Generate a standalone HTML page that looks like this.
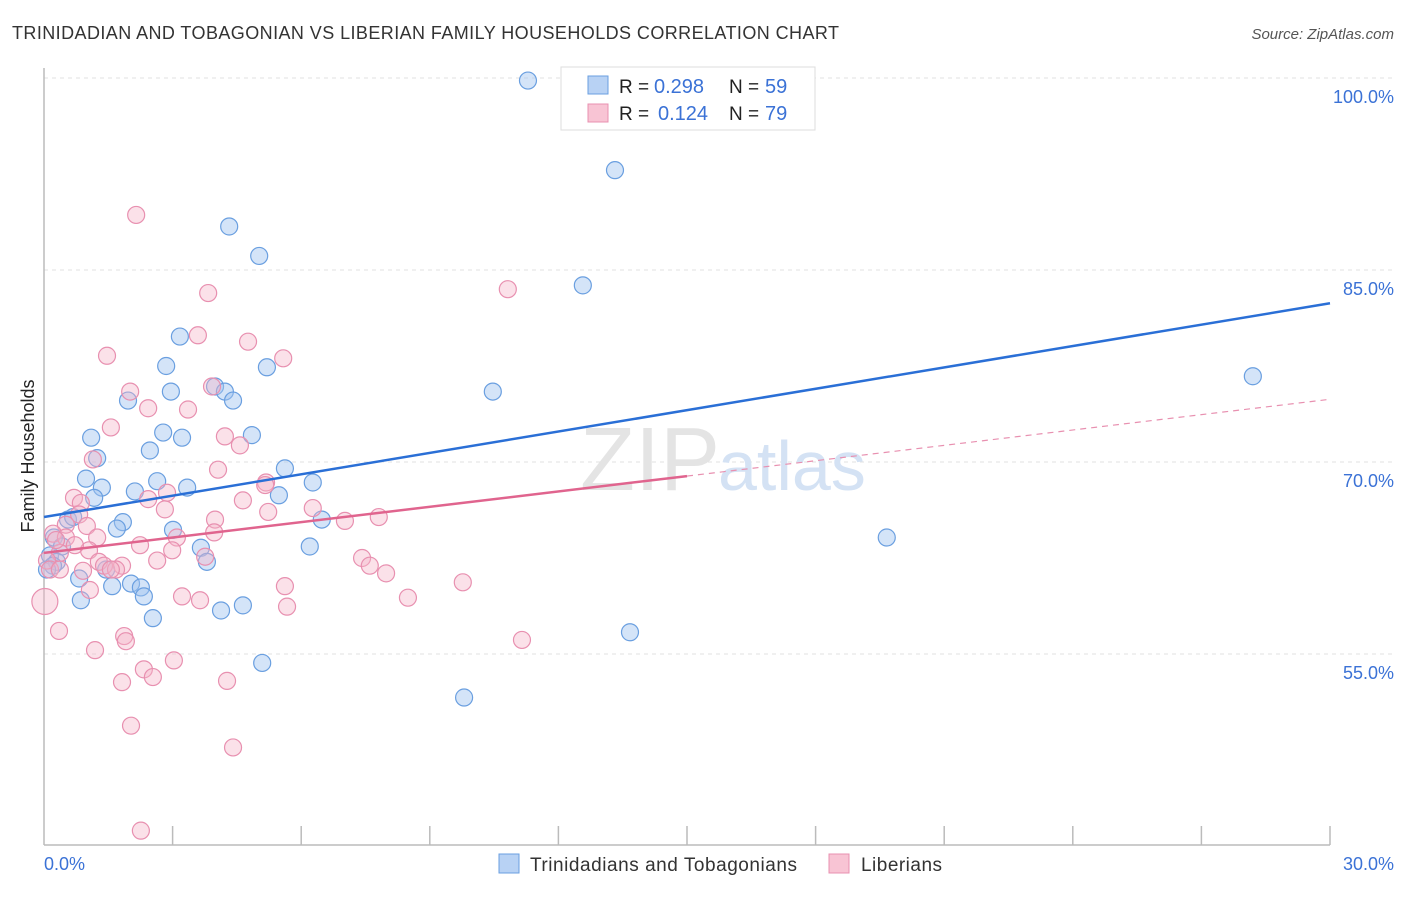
<!DOCTYPE html>
<html><head><meta charset="utf-8"><style>
body{margin:0;background:#fff;font-family:"Liberation Sans",sans-serif;}
svg text{font-family:"Liberation Sans",sans-serif;}
</style></head><body>
<svg width="1406" height="892" viewBox="0 0 1406 892">
<text x="12" y="39" font-size="18" fill="#333" textLength="827" lengthAdjust="spacing">TRINIDADIAN AND TOBAGONIAN VS LIBERIAN FAMILY HOUSEHOLDS CORRELATION CHART</text>
<text x="1394" y="39" font-size="15" fill="#555" font-style="italic" text-anchor="end">Source: ZipAtlas.com</text>
<text x="34" y="456" font-size="18" fill="#222" transform="rotate(-90 34 456)" text-anchor="middle">Family Households</text>
<g id="grid"></g>
<text x="720" y="490" font-size="90" fill="#e4e4e4" font-family="Liberation Serif" text-anchor="end">ZIP</text>
<text x="718" y="490" font-size="70" fill="#d4e2f4">atlas</text>
<line x1="44" y1="68" x2="44" y2="845" stroke="#bbb" stroke-width="1.5"/>
<line x1="44" y1="845" x2="1330" y2="845" stroke="#bbb" stroke-width="1.5"/>
<g id="ticks"></g>
<g id="pts"></g>
<g id="lines"></g>
<text x="44" y="870" font-size="18" fill="#3b72d6">0.0%</text>
<text x="1394" y="870" font-size="18" fill="#3b72d6" text-anchor="end">30.0%</text>
<g>
<rect x="561" y="67" width="254" height="63" fill="#fff" stroke="#ddd"/>
<rect x="588" y="76" width="20" height="18" fill="#b8d2f4" stroke="#6a9fe0"/>
<rect x="588" y="104" width="20" height="18" fill="#f8c4d4" stroke="#e890b0"/>
<text x="619" y="93" font-size="19" fill="#222">R =</text>
<text x="654" y="93" font-size="20" fill="#3b72d6">0.298</text>
<text x="729" y="93" font-size="19" fill="#222">N =</text>
<text x="765" y="93" font-size="20" fill="#3b72d6">59</text>
<text x="619" y="120" font-size="19" fill="#222">R =</text>
<text x="658" y="120" font-size="20" fill="#3b72d6">0.124</text>
<text x="729" y="120" font-size="19" fill="#222">N =</text>
<text x="765" y="120" font-size="20" fill="#3b72d6">79</text>
</g>
<g>
<rect x="499" y="854" width="20" height="19" fill="#b8d2f4" stroke="#6a9fe0"/>
<text x="530" y="871" font-size="19" fill="#333" textLength="267" lengthAdjust="spacing">Trinidadians and Tobagonians</text>
<rect x="829" y="854" width="20" height="19" fill="#f8c4d4" stroke="#e890b0"/>
<text x="861" y="871" font-size="19" fill="#333" textLength="81" lengthAdjust="spacing">Liberians</text>
</g>
</svg>
<script>
const yTicks=[100,85,70,55];
const yTickLabels=["100.0%","85.0%","70.0%","55.0%"];
const xTicks=[3,6,9,12,15,18,21,24,27,30];
const blueX=[11.29,13.32,4.32,5.02,12.57,3.17,2.85,5.20,2.96,3.99,4.22,10.47,1.96,4.41,28.2,1.10,2.78,3.22,4.85,2.47,1.24,5.62,0.98,2.64,6.27,1.35,3.34,2.12,5.48,1.17,0.56,0.68,1.84,1.70,3.01,6.48,19.66,0.23,0.42,3.66,6.20,0.14,0.30,3.80,0.21,0.07,1.45,0.82,1.59,2.03,2.26,2.33,0.86,4.64,4.13,2.54,13.67,5.09,9.80];
const blueY=[99.8,92.8,88.4,86.1,83.8,79.8,77.5,77.4,75.5,75.9,75.5,75.5,74.8,74.8,76.7,71.9,72.3,71.9,72.1,70.9,70.3,69.5,68.7,68.5,68.4,68.0,68.0,67.7,67.4,67.2,65.5,65.7,65.3,64.8,64.7,65.5,64.1,64.1,63.4,63.3,63.4,62.7,62.2,62.2,61.9,61.6,61.6,60.9,60.3,60.5,60.2,59.5,59.2,58.8,58.4,57.8,56.7,54.3,51.6];
const pinkX=[2.15,3.83,10.82,3.59,1.47,4.76,5.58,2.01,3.92,2.43,3.36,1.56,4.22,4.57,1.14,4.06,0.70,2.43,2.87,4.64,5.18,5.16,0.86,2.82,6.27,0.82,3.99,5.23,7.02,7.81,0.51,1.00,3.97,0.21,1.24,0.51,3.10,1.05,0.37,2.99,2.64,1.28,1.82,1.40,1.68,7.42,7.60,7.98,0.91,1.56,3.76,0.07,0.02,9.77,5.62,3.22,8.49,5.67,0.35,1.87,1.91,11.15,1.19,3.03,2.33,2.54,1.82,4.27,2.03,4.41,2.26,0.14,0.37,0.72,2.24,0.28,1.07,3.64];
const pinkY=[89.3,83.2,83.5,79.9,78.3,79.4,78.1,75.5,75.9,74.2,74.1,72.7,72.0,71.3,70.2,69.4,67.2,67.1,67.6,67.0,68.4,68.2,66.8,66.3,66.4,65.9,65.5,66.1,65.4,65.7,65.1,65.0,64.5,64.4,64.1,64.1,64.1,63.1,62.9,63.1,62.3,62.2,61.9,61.9,61.6,62.5,61.9,61.3,61.5,61.6,62.6,62.3,59.1,60.6,60.3,59.5,59.4,58.7,56.8,56.4,56.0,56.1,55.3,54.5,53.8,53.2,52.8,52.9,49.4,47.7,41.2,61.6,61.6,63.5,63.5,63.9,60.0,59.2];
const blueTrend=[65.7,82.4];
const pinkTrend=[62.9,74.9];
const pinkSolidEnd=15;
const X=v=>44+v/30*1286, Y=v=>78+(100-v)*12.8;
const NS="http://www.w3.org/2000/svg";
function mk(t,a,p){const e=document.createElementNS(NS,t);for(const k in a)e.setAttribute(k,a[k]);p.appendChild(e);return e;}
const grid=document.getElementById('grid');
yTicks.forEach((v,i)=>{
 const l=mk('line',{x1:44,x2:1394,y1:Y(v),y2:Y(v),stroke:'#e2e2e2','stroke-dasharray':'4,4'},grid);
 
 
 const t=mk('text',{x:1394,y:Y(v)+25,'font-size':18,fill:'#3b72d6','text-anchor':'end'},grid);
 t.textContent=yTickLabels[i];
 
 
});
const tk=document.getElementById('ticks');
xTicks.forEach(v=>{
 const l=mk('line',{x1:X(v),x2:X(v),y1:826,y2:845,stroke:'#bbb','stroke-width':1.5},tk);
 
 
});
const pts=document.getElementById('pts');
blueX.forEach((x,i)=>{
 const c=mk('circle',{cx:X(x),cy:Y(blueY[i]),r:8.5,fill:'rgba(160,195,240,0.45)',stroke:'#6a9fe0','stroke-width':1.2},pts);
 
 
});
pinkX.forEach((x,i)=>{
 const c=mk('circle',{cx:X(x),cy:Y(pinkY[i]),r:(x<0.05&&pinkY[i]<60)?13:8.5,fill:'rgba(245,180,200,0.4)',stroke:'#e890b0','stroke-width':1.2},pts);
 
 
});
const ln=document.getElementById('lines');
let b=mk('line',{x1:X(0),y1:Y(blueTrend[0]),x2:X(30),y2:Y(blueTrend[1]),stroke:'#2a6fd6','stroke-width':2.5},ln);


const py=v=>pinkTrend[0]+(pinkTrend[1]-pinkTrend[0])*v/30;
let p=mk('line',{x1:X(0),y1:Y(py(0)),x2:X(pinkSolidEnd),y2:Y(py(pinkSolidEnd)),stroke:'#e0648e','stroke-width':2.5},ln);


let pd=mk('line',{x1:X(pinkSolidEnd),y1:Y(py(pinkSolidEnd)),x2:X(30),y2:Y(py(30)),stroke:'#e890b0','stroke-width':1.2,'stroke-dasharray':'6,5'},ln);


</script>
</body></html>
